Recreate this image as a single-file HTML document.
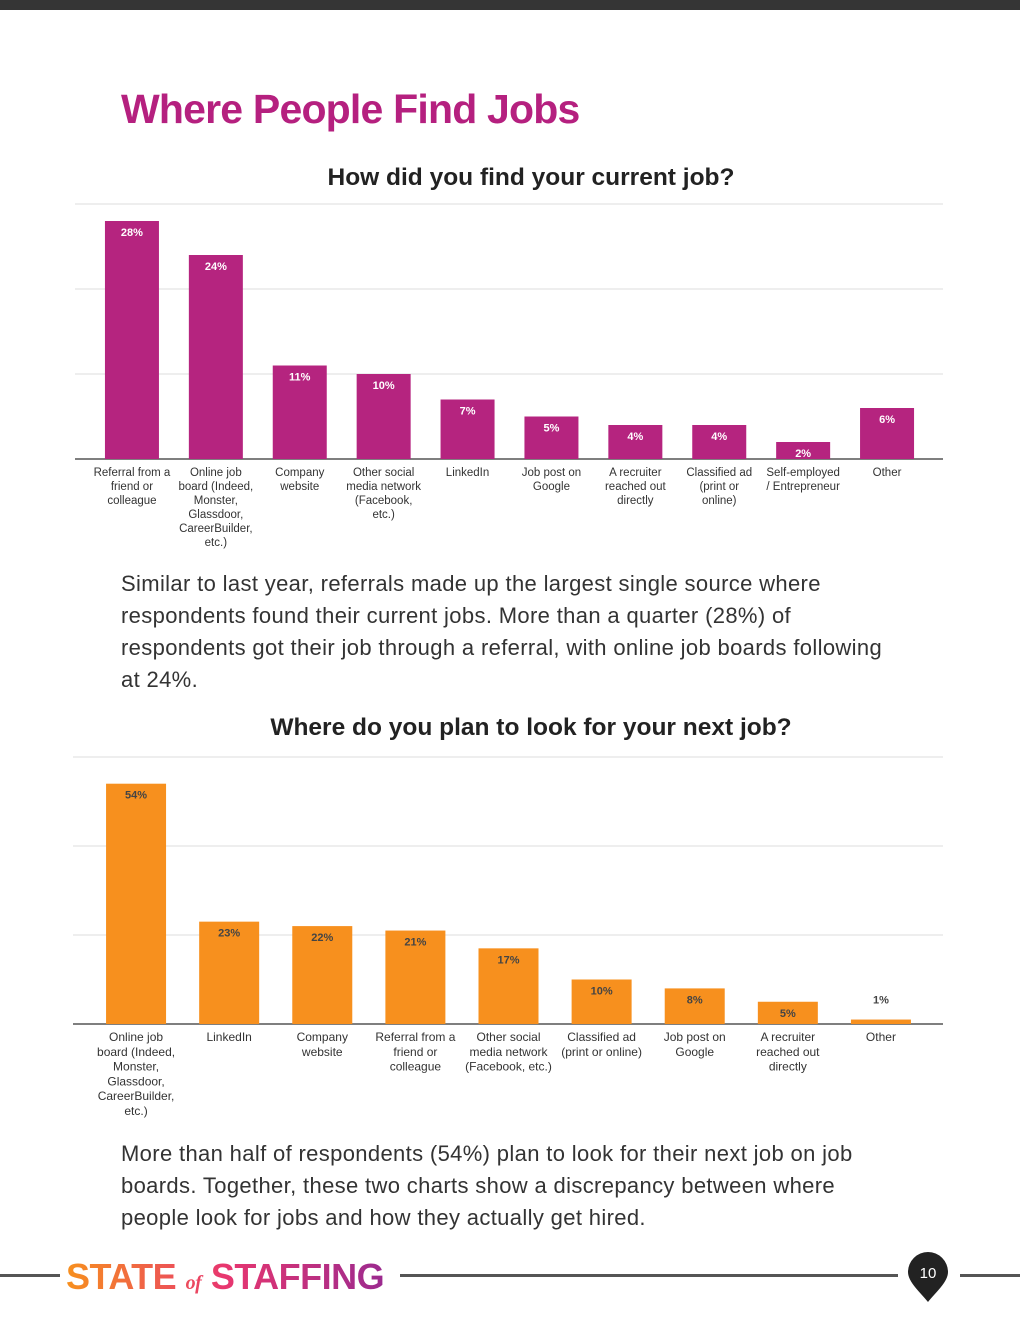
<!DOCTYPE html>
<html><head><meta charset="utf-8">
<style>
body{margin:0;width:1020px;height:1320px;background:#fff;position:relative;overflow:hidden;font-family:"Liberation Sans",sans-serif;}
.abs{position:absolute;}
.para{position:absolute;left:121px;font-size:22px;line-height:32px;color:#333;white-space:nowrap;letter-spacing:0.35px;}
</style></head><body>
<div class="abs" style="left:0;top:0;width:1020px;height:10px;background:#353535"></div>
<div class="abs" style="left:121px;top:86px;font-size:41px;font-weight:bold;color:#b5207f;letter-spacing:-0.8px">Where People Find Jobs</div>
<div class="abs" style="left:0;width:1062px;text-align:center;top:164px;font-size:24.5px;font-weight:bold;color:#222">How did you find your current job?</div>
<svg class="abs" id="c1" style="left:0;top:0" width="1020" height="560"></svg>
<div class="para" style="top:568px">Similar to last year, referrals made up the largest single source where<br>respondents found their current jobs. More than a quarter (28%) of<br>respondents got their job through a referral, with online job boards following<br>at 24%.</div>
<div class="abs" style="left:0;width:1062px;text-align:center;top:714px;font-size:24.5px;font-weight:bold;color:#222">Where do you plan to look for your next job?</div>
<svg class="abs" id="c2" style="left:0;top:0" width="1020" height="1130"></svg>
<div class="para" style="top:1138px">More than half of respondents (54%) plan to look for their next job on job<br>boards. Together, these two charts show a discrepancy between where<br>people look for jobs and how they actually get hired.</div>
<div class="abs" style="left:0;top:1274px;width:60px;height:3px;background:#555"></div>
<div class="abs" style="left:66px;top:1256px;font-size:36px;font-weight:bold;letter-spacing:-0.5px;white-space:nowrap;background:linear-gradient(90deg,#f7901e,#e8366f 50%,#9b2a8f);-webkit-background-clip:text;background-clip:text;color:transparent">STATE <span style="font-family:'Liberation Serif',serif;font-style:italic;font-size:20px;text-decoration:underline">of</span> STAFFING</div>
<div class="abs" style="left:400px;top:1274px;width:498px;height:3px;background:#555"></div>
<div class="abs" style="left:960px;top:1274px;width:60px;height:3px;background:#555"></div>
<svg class="abs" style="left:906px;top:1250px" width="44" height="54"><path d="M22 2a20 20 0 0 1 20 20c0 10-12 20-20 30C14 42 2 32 2 22A20 20 0 0 1 22 2z" fill="#222"/><text x="22" y="28" text-anchor="middle" fill="#fff" font-size="15" font-family="Liberation Sans">10</text></svg>
<script>
const cats1=[["Referral from a","friend or","colleague"],["Online job","board (Indeed,","Monster,","Glassdoor,","CareerBuilder,","etc.)"],["Company","website"],["Other social","media network","(Facebook,","etc.)"],["LinkedIn"],["Job post on","Google"],["A recruiter","reached out","directly"],["Classified ad","(print or","online)"],["Self-employed","/ Entrepreneur"],["Other"]];
const vals1=[28,24,11,10,7,5,4,4,2,6];
const ticks1=[0,10,20,30];
const cats2=[["Online job","board (Indeed,","Monster,","Glassdoor,","CareerBuilder,","etc.)"],["LinkedIn"],["Company","website"],["Referral from a","friend or","colleague"],["Other social","media network","(Facebook, etc.)"],["Classified ad","(print or online)"],["Job post on","Google"],["A recruiter","reached out","directly"],["Other"]];
const vals2=[54,23,22,21,17,10,8,5,1];
const ticks2=[0,20,40,60];
const NS="http://www.w3.org/2000/svg";
function mk(svg,tag,a){const e=document.createElementNS(NS,tag);for(const k in a)e.setAttribute(k,a[k]);svg.appendChild(e);return e;}
function draw(id,cats,vals,ticks,o){
  const svg=document.getElementById(id);
  const max=ticks[ticks.length-1];
  const y=v=>o.base-(v/max)*(o.base-o.top);
  const step=(o.x1-o.x0)/cats.length;
  const x=i=>o.x0+step*(i+0.5);
  ticks.forEach(t=>{const l=mk(svg,'line',{x1:o.g0,x2:o.g1,y1:y(t),y2:y(t),stroke:t===0?'#333':'#ddd','stroke-width':t===0?1.2:1});
    
    });
  vals.forEach((v,i)=>{
    const r=mk(svg,'rect',{x:x(i)-o.bw/2,y:y(v),width:o.bw,height:o.base-y(v),fill:o.color});
    
    
    const small=(o.base-y(v))<12;
    const t=mk(svg,'text',{x:x(i),y:small?y(v)-16:y(v)+15,'text-anchor':'middle','font-size':11,'font-weight':'bold',fill:small?'#444':o.lbl,'font-family':'Liberation Sans'});
    t.textContent=v+'%';
    
    
    cats[i].forEach((ln,j)=>{const c=mk(svg,'text',{x:x(i),y:o.base+17+j*o.lh,'text-anchor':'middle','font-size':o.fs,fill:'#333','font-family':'Liberation Sans'});
      c.textContent=ln;
      
      });
  });
}
draw('c1',cats1,vals1,ticks1,{x0:90,x1:929,g0:75,g1:943,top:204,base:459,bw:54,color:'#b5247f',lbl:'#fff',fs:11.5,lh:14});
draw('c2',cats2,vals2,ticks2,{x0:89.5,x1:927.5,g0:73,g1:943,top:757,base:1024,bw:60,color:'#f7901e',lbl:'#444',fs:12,lh:14.8});
</script>
</body></html>
